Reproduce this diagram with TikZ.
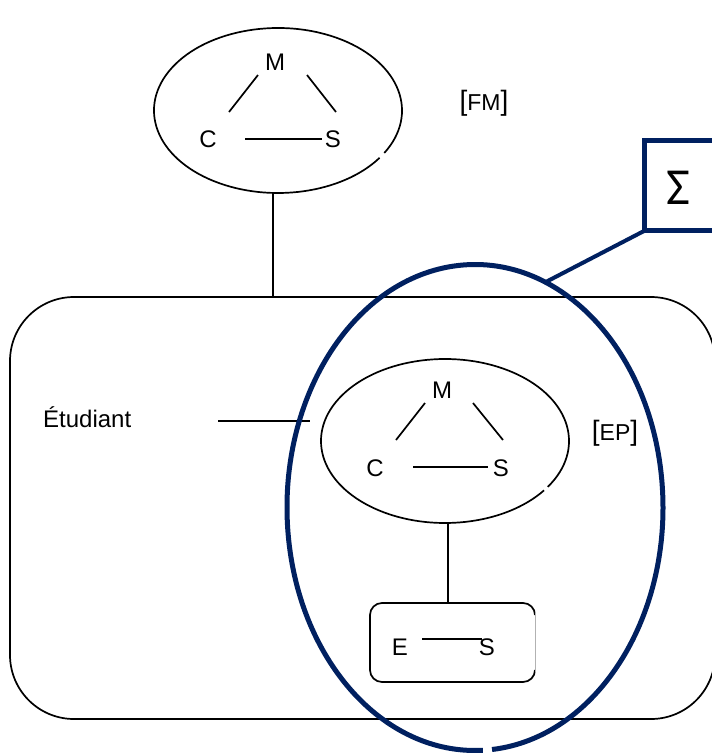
\documentclass[tikz,border=0pt]{standalone}
\usepackage{fontspec}
\setmainfont{Liberation Sans}
\newfontfamily\sigfont{Carlito}
\usetikzlibrary{calc}
\definecolor{navy}{RGB}{0,32,96}
\begin{document}
\begin{tikzpicture}[x=1pt,y=-1pt,
  lbl/.style={font=\fontsize{24}{24}\selectfont, inner sep=0pt, anchor=base},
  blk/.style={draw=black, line width=1.7pt},
  nv/.style={draw=navy, line width=5pt}]
\useasboundingbox (0,0) rectangle (712,756);

% centres
\coordinate (fmc) at (278,110.5);
\coordinate (epc) at (445,441);
\coordinate (nvc) at (475,507.5);

% big rounded rectangle
\draw[blk, rounded corners=64pt] (10,297) rectangle (715,719);

% top ellipse (FM) with small gap
\draw[blk] ([shift={(-31:124pt and 82.5pt)}]fmc) arc[start angle=-31,end angle=325,x radius=124pt,y radius=82.5pt];
\node[lbl] (m1) at (275,70) {M};
\node[lbl] (c1) at (208,147) {C};
\node[lbl] (s1) at (333,147) {S};
\coordinate (m1a) at (258,75);  \coordinate (c1a) at (229,112);
\coordinate (m1b) at (307,75);  \coordinate (s1b) at (336,112);
\coordinate (c1c) at (245,139); \coordinate (s1c) at (322,139);
\draw[blk] (m1a) -- (c1a);
\draw[blk] (m1b) -- (s1b);
\draw[blk] (c1c) -- (s1c);
\node[inner sep=0pt, anchor=base] (fm) at (484,110) {\fontsize{28}{28}\selectfont[\fontsize{23}{23}\selectfont FM\fontsize{28}{28}\selectfont]};

% connector FM -> big rect
\coordinate (fmb) at (273,193);
\coordinate (bigt) at (273,297);
\draw[blk] (fmb) -- (bigt);

% second ellipse (EP)
\draw[blk] ([shift={(-34:124pt and 82pt)}]epc) arc[start angle=-34,end angle=323,x radius=124pt,y radius=82pt];
\node[lbl] (m2) at (442,398) {M};
\node[lbl] (c2) at (375,476) {C};
\node[lbl] (s2) at (501,476) {S};
\coordinate (m2a) at (425,403); \coordinate (c2a) at (396,440);
\coordinate (m2b) at (473,403); \coordinate (s2b) at (503,440);
\coordinate (c2c) at (413,467); \coordinate (s2c) at (488,467);
\draw[blk] (m2a) -- (c2a);
\draw[blk] (m2b) -- (s2b);
\draw[blk] (c2c) -- (s2c);
\node[inner sep=0pt, anchor=base] (ep) at (615,440) {\fontsize{28}{28}\selectfont[\fontsize{23}{23}\selectfont EP\fontsize{28}{28}\selectfont]};

% Etudiant
\node[lbl, anchor=base west] (etu) at (43,427) {Étudiant};
\coordinate (etr) at (218,421);
\coordinate (epl) at (310,421);
\draw[blk] (etr) -- (epl);

% connector EP -> small box
\coordinate (epb) at (448,523);
\coordinate (smt) at (448,603);
\draw[blk] (epb) -- (smt);

% small rounded box
\draw[blk, rounded corners=12pt] (535,615) -- (535,603) -- (370,603) -- (370,682) -- (535,682) -- (535,670);
\draw[gray!60, line width=0.8pt] (535,612) -- (535,672);
\node[lbl] (e3) at (400,655) {E};
\node[lbl] (s3) at (487,655) {S};
\coordinate (e3a) at (422,639); \coordinate (s3a) at (482,639);
\draw[blk] (e3a) -- (s3a);

% navy ellipse with gap at bottom
\draw[nv] ([shift={(-84.8:188pt and 243pt)}]nvc) arc[start angle=-84.8,end angle=272.4,x radius=188pt,y radius=243pt];

% sigma box
\draw[nv] (644,140) rectangle (745,230);
\node[inner sep=0pt, font=\sigfont\fontsize{52}{52}\selectfont] (sig) at (678,188) {Σ};
\coordinate (sgc) at (644,231);
\coordinate (nvp) at ([shift={(68:188pt and 243pt)}]nvc);
\draw[navy, line width=4pt] (sgc) -- (nvp);
\end{tikzpicture}
\end{document}
